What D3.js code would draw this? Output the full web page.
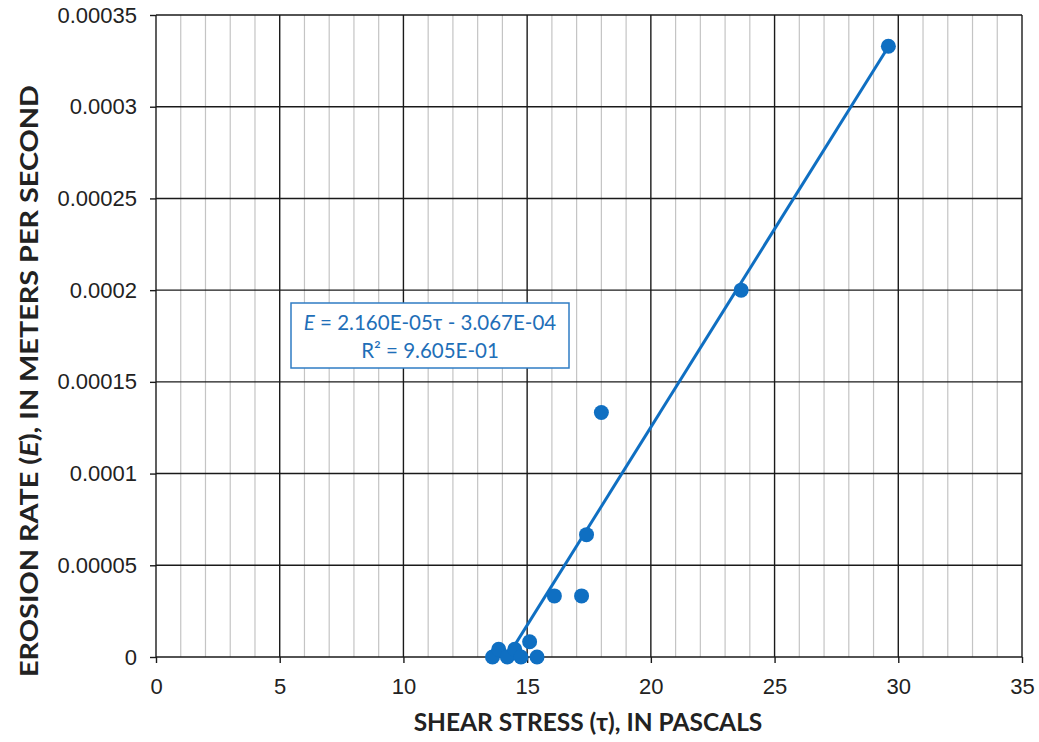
<!DOCTYPE html>
<html>
<head>
<meta charset="utf-8">
<script src="https://cdn.jsdelivr.net/npm/d3@7"></script>
<style>
  html, body { margin: 0; padding: 0; background: #fff; }
  svg { display: block; font-family: Lato, "Open Sans", sans-serif; }
</style>
</head>
<body>
<svg id="chart" width="1039" height="742"></svg>
<script>
// Measured shear stress (Pa) and erosion rate (m/s)
const shearStress = [13.6, 13.85, 14.2, 14.5, 14.75, 15.1, 15.4, 16.1, 17.2, 17.4, 18.0, 23.65, 29.6];
const erosionRate = [0, 0.0000042, 0, 0.0000042, 0, 0.0000083, 0, 0.0000333, 0.0000333, 0.0000667, 0.0001333, 0.0002, 0.000333];

// Linear fit E = slope * tau + intercept
const fitSlope = 2.160e-5;
const fitIntercept = -3.067e-4;
const fitLabel = ["= 2.160E-05τ - 3.067E-04", "R² = 9.605E-01"];

const xTicks = [0, 5, 10, 15, 20, 25, 30, 35];
const yTicks = [0, 0.00005, 0.0001, 0.00015, 0.0002, 0.00025, 0.0003, 0.00035];
const xMinorTicks = d3.range(0, 36, 1);

const W = 1039, H = 742;
const margin = { left: 156, top: 15, right: 17, bottom: 85 };
const svg = d3.select("#chart");

const x = d3.scaleLinear().domain([0, 35]).range([margin.left, W - margin.right]);
const y = d3.scaleLinear().domain([0, 0.00035]).range([H - margin.bottom, margin.top]);

const blue = "#0f6fc2";

// minor vertical grid
svg.append("g").selectAll("line").data(xMinorTicks.filter(d => d % 5 !== 0)).join("line")
  .attr("x1", d => x(d)).attr("x2", d => x(d))
  .attr("y1", y(0)).attr("y2", y(0.00035))
  .attr("stroke", "#c4c4c4").attr("stroke-width", 1.2);

// major grid
svg.append("g").selectAll("line").data(xTicks).join("line")
  .attr("x1", d => x(d)).attr("x2", d => x(d))
  .attr("y1", y(0)).attr("y2", y(0.00035))
  .attr("stroke", "#1a1a1a").attr("stroke-width", 1.4);
svg.append("g").selectAll("line").data(yTicks).join("line")
  .attr("x1", x(0)).attr("x2", x(35))
  .attr("y1", d => y(d)).attr("y2", d => y(d))
  .attr("stroke", "#1a1a1a").attr("stroke-width", 1.4);

// axes
const fmtY = d => d === 0 ? "0" : d.toFixed(5).replace(/0+$/, "");
const yAxis = d3.axisLeft(y).tickValues(yTicks).tickFormat(fmtY).tickSize(6).tickPadding(13);
const xAxis = d3.axisBottom(x).tickValues(xTicks).tickFormat(d3.format("d")).tickSize(6).tickPadding(15);

const gy = svg.append("g").attr("transform", `translate(${x(0)},0)`).call(yAxis);
const gx = svg.append("g").attr("transform", `translate(0,${y(0)})`).call(xAxis);
[gx, gy].forEach(g => {
  g.select(".domain").remove();
  g.selectAll(".tick line").attr("stroke", "#1a1a1a").attr("stroke-width", 1.4);
  g.selectAll(".tick text").attr("fill", "#222").style("font-size", "22px");
});

// fitted trend line over the data range, clipped at E = 0
const tStart = Math.max(d3.min(shearStress), -fitIntercept / fitSlope);
const tEnd = d3.max(shearStress);
svg.append("line")
  .attr("x1", x(tStart)).attr("y1", y(fitSlope * tStart + fitIntercept))
  .attr("x2", x(tEnd)).attr("y2", y(fitSlope * tEnd + fitIntercept))
  .attr("stroke", blue).attr("stroke-width", 3);

// observations
svg.append("g").selectAll("circle").data(shearStress.map((t, i) => [t, erosionRate[i]])).join("circle")
  .attr("cx", d => x(d[0])).attr("cy", d => y(d[1])).attr("r", 7.5)
  .attr("fill", blue);

// equation box
const box = svg.append("g").attr("transform", `translate(291,303)`);
box.append("rect").attr("width", 278).attr("height", 65)
  .attr("fill", "#fff").attr("stroke", "#2f7cc4").attr("stroke-width", 1.5);
const l1 = box.append("text").attr("x", 139).attr("y", 27).attr("text-anchor", "middle")
  .attr("fill", "#1f6fb8").style("font-size", "20.5px");
l1.append("tspan").attr("font-style", "italic").text("E");
l1.append("tspan").text(" " + fitLabel[0]);
box.append("text").attr("x", 139).attr("y", 55).attr("text-anchor", "middle")
  .attr("fill", "#1f6fb8").style("font-size", "20.5px").text(fitLabel[1]);

// axis titles
svg.append("text").attr("x", 588).attr("y", 731)
  .attr("text-anchor", "middle").attr("font-weight", "bold").attr("fill", "#222")
  .style("font-size", "24.5px").text("SHEAR STRESS (τ), IN PASCALS");

const yt = svg.append("text")
  .attr("transform", `translate(38,381) rotate(-90)`)
  .attr("text-anchor", "middle").attr("font-weight", "bold").attr("fill", "#222")
  .attr("textLength", 592).attr("lengthAdjust", "spacingAndGlyphs")
  .style("font-size", "25px");
yt.append("tspan").text("EROSION RATE (");
yt.append("tspan").attr("font-style", "italic").text("E");
yt.append("tspan").text("), IN METERS PER SECOND");
</script>
</body>
</html>
